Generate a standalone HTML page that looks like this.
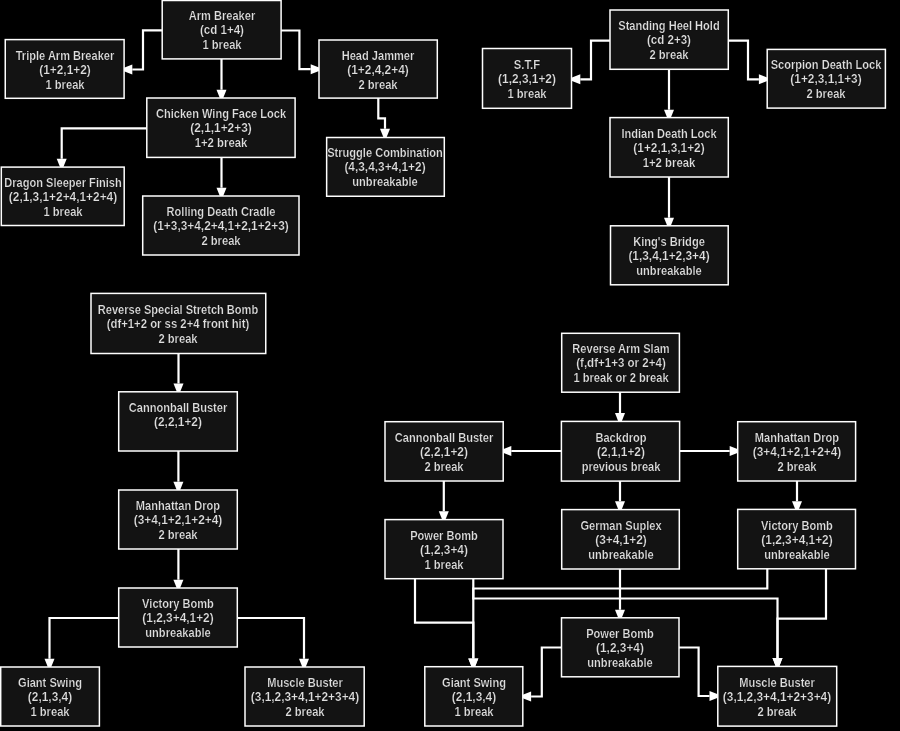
<!DOCTYPE html>
<html><head><meta charset="utf-8"><style>
html,body{margin:0;padding:0;background:#000;width:900px;height:731px;overflow:hidden}
svg{position:absolute;left:0;top:0}
rect{fill:#131313;stroke:#ffffff;stroke-width:1.5}
polyline{fill:none;stroke:#fff;stroke-width:2.2}
polygon{fill:#fff}
.t{position:absolute;will-change:transform;text-shadow:0 0 1px #000;-webkit-text-stroke:0.2px #131313;width:200px;height:42.900000000000006px;color:#dedede;font:bold 12px/14.3px "Liberation Sans",sans-serif;text-align:center;white-space:nowrap}
.t i{display:block;font-style:normal}
</style></head><body>
<svg width="900" height="731" viewBox="0 0 900 731">
<rect x='162.2' y='0.5' width='118.9' height='58.4'/>
<rect x='5.25' y='39.6' width='118.85' height='58.7'/>
<rect x='319' y='40' width='118.3' height='58.1'/>
<rect x='146.8' y='98' width='148.3' height='59.4'/>
<rect x='326.65' y='137.5' width='117.65' height='58.75'/>
<rect x='1.3' y='167.1' width='122.9' height='58.4'/>
<rect x='142.7' y='196' width='156.3' height='59'/>
<rect x='610' y='10' width='118.3' height='59.3'/>
<rect x='482.5' y='48.5' width='89' height='59.8'/>
<rect x='767.2' y='49.4' width='118.2' height='58.7'/>
<rect x='610' y='117.6' width='118.3' height='59.4'/>
<rect x='610.5' y='225.8' width='117.7' height='59'/>
<rect x='91' y='293.4' width='174.75' height='60.1'/>
<rect x='118.7' y='391.8' width='118.6' height='59.2'/>
<rect x='118.7' y='490' width='118.6' height='59'/>
<rect x='118.7' y='588' width='118.6' height='59'/>
<rect x='0.7' y='667' width='98.7' height='59'/>
<rect x='245' y='667' width='119.2' height='59'/>
<rect x='561.7' y='333.3' width='117.7' height='58.9'/>
<rect x='385' y='421.7' width='118.2' height='59.3'/>
<rect x='561.4' y='421.4' width='118.2' height='59.7'/>
<rect x='737.7' y='421.7' width='117.9' height='59.3'/>
<rect x='385' y='519.6' width='118' height='59.1'/>
<rect x='561.7' y='509.6' width='117.6' height='59.4'/>
<rect x='737.7' y='509.4' width='117.8' height='59.4'/>
<rect x='561.5' y='617.8' width='117.5' height='59'/>
<rect x='424.8' y='666.7' width='98' height='59.3'/>
<rect x='717.8' y='666.4' width='118.9' height='59.7'/>
<polyline points='162.00,30.40 143.00,30.40 143.00,69.50 132.30,69.50'/>
<polygon points='124.00,67.80 132.30,64.50 132.30,69.50 132.30,74.50 124.00,71.20'/>
<polyline points='281.00,30.50 299.40,30.50 299.40,69.20 310.70,69.20'/>
<polygon points='319.00,70.90 310.70,74.20 310.70,69.20 310.70,64.20 319.00,67.50'/>
<polyline points='221.50,59.00 221.50,89.70'/>
<polygon points='219.80,98.00 216.50,89.70 221.50,89.70 226.50,89.70 223.20,98.00'/>
<polyline points='146.80,128.30 61.70,128.30 61.70,158.80'/>
<polygon points='60.00,167.10 56.70,158.80 61.70,158.80 66.70,158.80 63.40,167.10'/>
<polyline points='221.50,157.00 221.50,187.70'/>
<polygon points='219.80,196.00 216.50,187.70 221.50,187.70 226.50,187.70 223.20,196.00'/>
<polyline points='378.30,98.00 378.30,118.30 385.00,118.30 385.00,128.70'/>
<polygon points='383.30,137.00 380.00,128.70 385.00,128.70 390.00,128.70 386.70,137.00'/>
<polyline points='610.00,40.70 591.00,40.70 591.00,79.30 580.30,79.30'/>
<polygon points='572.00,77.60 580.30,74.30 580.30,79.30 580.30,84.30 572.00,81.00'/>
<polyline points='728.00,40.70 748.00,40.70 748.00,79.30 758.90,79.30'/>
<polygon points='767.20,81.00 758.90,84.30 758.90,79.30 758.90,74.30 767.20,77.60'/>
<polyline points='669.00,69.00 669.00,109.70'/>
<polygon points='667.30,118.00 664.00,109.70 669.00,109.70 674.00,109.70 670.70,118.00'/>
<polyline points='669.00,177.00 669.00,217.70'/>
<polygon points='667.30,226.00 664.00,217.70 669.00,217.70 674.00,217.70 670.70,226.00'/>
<polyline points='178.50,353.50 178.50,383.50'/>
<polygon points='176.80,391.80 173.50,383.50 178.50,383.50 183.50,383.50 180.20,391.80'/>
<polyline points='178.40,451.00 178.40,481.70'/>
<polygon points='176.70,490.00 173.40,481.70 178.40,481.70 183.40,481.70 180.10,490.00'/>
<polyline points='178.40,549.00 178.40,579.70'/>
<polygon points='176.70,588.00 173.40,579.70 178.40,579.70 183.40,579.70 180.10,588.00'/>
<polyline points='119.00,618.00 49.50,618.00 49.50,658.70'/>
<polygon points='47.80,667.00 44.50,658.70 49.50,658.70 54.50,658.70 51.20,667.00'/>
<polyline points='237.00,618.00 304.00,618.00 304.00,658.70'/>
<polygon points='302.30,667.00 299.00,658.70 304.00,658.70 309.00,658.70 305.70,667.00'/>
<polyline points='620.00,392.00 620.00,413.10'/>
<polygon points='618.30,421.40 615.00,413.10 620.00,413.10 625.00,413.10 621.70,421.40'/>
<polyline points='562.00,451.00 511.30,451.00'/>
<polygon points='503.00,449.30 511.30,446.00 511.30,451.00 511.30,456.00 503.00,452.70'/>
<polyline points='679.00,451.00 729.70,451.00'/>
<polygon points='738.00,452.70 729.70,456.00 729.70,451.00 729.70,446.00 738.00,449.30'/>
<polyline points='620.00,481.00 620.00,501.20'/>
<polygon points='618.30,509.50 615.00,501.20 620.00,501.20 625.00,501.20 621.70,509.50'/>
<polyline points='443.80,481.00 443.80,511.30'/>
<polygon points='442.10,519.60 438.80,511.30 443.80,511.30 448.80,511.30 445.50,519.60'/>
<polyline points='797.00,481.00 797.00,501.20'/>
<polygon points='795.30,509.50 792.00,501.20 797.00,501.20 802.00,501.20 798.70,509.50'/>
<polyline points='620.00,569.00 620.00,609.70'/>
<polygon points='618.30,618.00 615.00,609.70 620.00,609.70 625.00,609.70 621.70,618.00'/>
<polyline points='415.00,578.70 415.00,622.70 473.30,622.70 473.30,658.40'/>
<polygon points='471.60,666.70 468.30,658.40 473.30,658.40 478.30,658.40 475.00,666.70'/>
<polyline points='473.30,578.70 473.30,598.50 777.50,598.50 777.50,658.10'/>
<polygon points='775.80,666.40 772.50,658.10 777.50,658.10 782.50,658.10 779.20,666.40'/>
<polyline points='767.30,568.80 767.30,588.50 473.30,588.50 473.30,658.40'/>
<polygon points='471.60,666.70 468.30,658.40 473.30,658.40 478.30,658.40 475.00,666.70'/>
<polyline points='826.00,569.00 826.00,618.60 777.50,618.60 777.50,658.10'/>
<polygon points='775.80,666.40 772.50,658.10 777.50,658.10 782.50,658.10 779.20,666.40'/>
<polyline points='561.50,647.50 541.80,647.50 541.80,696.50 531.10,696.50'/>
<polygon points='522.80,694.80 531.10,691.50 531.10,696.50 531.10,701.50 522.80,698.20'/>
<polyline points='679.00,647.50 698.60,647.50 698.60,696.00 709.50,696.00'/>
<polygon points='717.80,697.70 709.50,701.00 709.50,696.00 709.50,691.00 717.80,694.30'/>
</svg>
<div class='t' style='left:121.65px;top:9.25px'><i style='transform:scaleX(0.9220)'>Arm Breaker</i><i style='transform:scaleX(0.9617)'>(cd 1+4)</i><i style='transform:scaleX(0.9310)'>1 break</i></div>
<div class='t' style='left:-35.33px;top:48.50px'><i style='transform:scaleX(0.9213)'>Triple Arm Breaker</i><i style='transform:scaleX(0.9900)'>(1+2,1+2)</i><i style='transform:scaleX(0.9310)'>1 break</i></div>
<div class='t' style='left:278.15px;top:48.60px'><i style='transform:scaleX(0.9221)'>Head Jammer</i><i style='transform:scaleX(0.9900)'>(1+2,4,2+4)</i><i style='transform:scaleX(0.9310)'>2 break</i></div>
<div class='t' style='left:120.95px;top:107.25px'><i style='transform:scaleX(0.9209)'>Chicken Wing Face Lock</i><i style='transform:scaleX(0.9900)'>(2,1,1+2+3)</i><i style='transform:scaleX(0.9455)'>1+2 break</i></div>
<div class='t' style='left:285.48px;top:146.43px'><i style='transform:scaleX(0.9228)'>Struggle Combination</i><i style='transform:scaleX(0.9900)'>(4,3,4,3+4,1+2)</i><i style='transform:scaleX(0.9240)'>unbreakable</i></div>
<div class='t' style='left:-37.25px;top:175.85px'><i style='transform:scaleX(0.9217)'>Dragon Sleeper Finish</i><i style='transform:scaleX(0.9900)'>(2,1,3,1+2+4,1+2+4)</i><i style='transform:scaleX(0.9310)'>1 break</i></div>
<div class='t' style='left:120.85px;top:205.05px'><i style='transform:scaleX(0.9215)'>Rolling Death Cradle</i><i style='transform:scaleX(0.9900)'>(1+3,3+4,2+4,1+2,1+2+3)</i><i style='transform:scaleX(0.9310)'>2 break</i></div>
<div class='t' style='left:569.15px;top:19.20px'><i style='transform:scaleX(0.9213)'>Standing Heel Hold</i><i style='transform:scaleX(0.9617)'>(cd 2+3)</i><i style='transform:scaleX(0.9310)'>2 break</i></div>
<div class='t' style='left:427.00px;top:57.95px'><i style='transform:scaleX(0.9390)'>S.T.F</i><i style='transform:scaleX(0.9900)'>(1,2,3,1+2)</i><i style='transform:scaleX(0.9310)'>1 break</i></div>
<div class='t' style='left:726.30px;top:58.30px'><i style='transform:scaleX(0.9216)'>Scorpion Death Lock</i><i style='transform:scaleX(0.9900)'>(1+2,3,1,1+3)</i><i style='transform:scaleX(0.9310)'>2 break</i></div>
<div class='t' style='left:569.15px;top:126.85px'><i style='transform:scaleX(0.9212)'>Indian Death Lock</i><i style='transform:scaleX(0.9900)'>(1+2,1,3,1+2)</i><i style='transform:scaleX(0.9455)'>1+2 break</i></div>
<div class='t' style='left:569.35px;top:234.85px'><i style='transform:scaleX(0.9245)'>King's Bridge</i><i style='transform:scaleX(0.9900)'>(1,3,4,1+2,3+4)</i><i style='transform:scaleX(0.9240)'>unbreakable</i></div>
<div class='t' style='left:78.38px;top:303.00px'><i style='transform:scaleX(0.9215)'>Reverse Special Stretch Bomb</i><i style='transform:scaleX(0.9435)'>(df+1+2 or ss 2+4 front hit)</i><i style='transform:scaleX(0.9310)'>2 break</i></div>
<div class='t' style='left:78.00px;top:400.95px'><i style='transform:scaleX(0.9226)'>Cannonball Buster</i><i style='transform:scaleX(0.9900)'>(2,2,1+2)</i><i style='transform:scaleX(1.0000)'>&nbsp;</i></div>
<div class='t' style='left:78.00px;top:499.05px'><i style='transform:scaleX(0.9224)'>Manhattan Drop</i><i style='transform:scaleX(0.9900)'>(3+4,1+2,1+2+4)</i><i style='transform:scaleX(0.9310)'>2 break</i></div>
<div class='t' style='left:78.00px;top:597.05px'><i style='transform:scaleX(0.9221)'>Victory Bomb</i><i style='transform:scaleX(0.9900)'>(1,2,3+4,1+2)</i><i style='transform:scaleX(0.9240)'>unbreakable</i></div>
<div class='t' style='left:-49.95px;top:676.05px'><i style='transform:scaleX(0.9219)'>Giant Swing</i><i style='transform:scaleX(0.9900)'>(2,1,3,4)</i><i style='transform:scaleX(0.9310)'>1 break</i></div>
<div class='t' style='left:204.60px;top:676.05px'><i style='transform:scaleX(0.9222)'>Muscle Buster</i><i style='transform:scaleX(0.9900)'>(3,1,2,3+4,1+2+3+4)</i><i style='transform:scaleX(0.9310)'>2 break</i></div>
<div class='t' style='left:520.55px;top:342.30px'><i style='transform:scaleX(0.9212)'>Reverse Arm Slam</i><i style='transform:scaleX(0.9627)'>(f,df+1+3 or 2+4)</i><i style='transform:scaleX(0.9269)'>1 break or 2 break</i></div>
<div class='t' style='left:344.10px;top:430.90px'><i style='transform:scaleX(0.9226)'>Cannonball Buster</i><i style='transform:scaleX(0.9900)'>(2,2,1+2)</i><i style='transform:scaleX(0.9310)'>2 break</i></div>
<div class='t' style='left:520.50px;top:430.80px'><i style='transform:scaleX(0.9240)'>Backdrop</i><i style='transform:scaleX(0.9900)'>(2,1,1+2)</i><i style='transform:scaleX(0.9223)'>previous break</i></div>
<div class='t' style='left:696.65px;top:430.90px'><i style='transform:scaleX(0.9224)'>Manhattan Drop</i><i style='transform:scaleX(0.9900)'>(3+4,1+2,1+2+4)</i><i style='transform:scaleX(0.9310)'>2 break</i></div>
<div class='t' style='left:344.00px;top:528.70px'><i style='transform:scaleX(0.9220)'>Power Bomb</i><i style='transform:scaleX(0.9900)'>(1,2,3+4)</i><i style='transform:scaleX(0.9310)'>1 break</i></div>
<div class='t' style='left:520.50px;top:518.85px'><i style='transform:scaleX(0.9223)'>German Suplex</i><i style='transform:scaleX(0.9900)'>(3+4,1+2)</i><i style='transform:scaleX(0.9240)'>unbreakable</i></div>
<div class='t' style='left:696.60px;top:518.65px'><i style='transform:scaleX(0.9221)'>Victory Bomb</i><i style='transform:scaleX(0.9900)'>(1,2,3+4,1+2)</i><i style='transform:scaleX(0.9240)'>unbreakable</i></div>
<div class='t' style='left:520.25px;top:626.85px'><i style='transform:scaleX(0.9220)'>Power Bomb</i><i style='transform:scaleX(0.9900)'>(1,2,3+4)</i><i style='transform:scaleX(0.9240)'>unbreakable</i></div>
<div class='t' style='left:373.80px;top:675.90px'><i style='transform:scaleX(0.9219)'>Giant Swing</i><i style='transform:scaleX(0.9900)'>(2,1,3,4)</i><i style='transform:scaleX(0.9310)'>1 break</i></div>
<div class='t' style='left:677.25px;top:675.80px'><i style='transform:scaleX(0.9222)'>Muscle Buster</i><i style='transform:scaleX(0.9900)'>(3,1,2,3+4,1+2+3+4)</i><i style='transform:scaleX(0.9310)'>2 break</i></div>
</body></html>
